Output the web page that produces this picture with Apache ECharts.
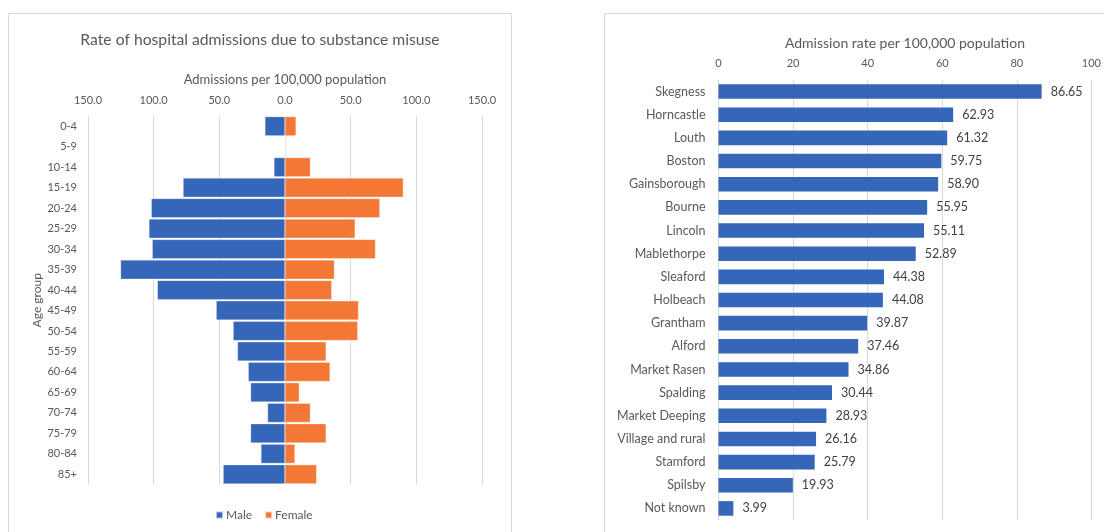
<!DOCTYPE html>
<html>
<head>
<meta charset="utf-8">
<script src="https://cdn.jsdelivr.net/npm/echarts@6/dist/echarts.min.js"></script>
<style>
  html, body { margin: 0; padding: 0; background: #ffffff; }
  #chart { width: 1104px; height: 532px; }
</style>
</head>
<body>
<div id="chart"></div>
<script>
// Age-group pyramid: admissions per 100,000 population
const ageGroups = ['0-4', '5-9', '10-14', '15-19', '20-24', '25-29', '30-34', '35-39', '40-44',
  '45-49', '50-54', '55-59', '60-64', '65-69', '70-74', '75-79', '80-84', '85+'];
const maleRates = [15.3, 0, 8.4, 77.6, 101.8, 103.6, 101.1, 125.2, 97.2,
  52.4, 39.5, 36.2, 28.0, 26.2, 13.3, 26.2, 18.3, 47.1];
const femaleRates = [8.4, 0, 19.3, 90.1, 72.2, 53.4, 68.9, 37.6, 35.6,
  56.0, 55.4, 31.3, 34.3, 10.9, 19.3, 31.3, 7.6, 24.1];
const pyramidTicks = [-150, -100, -50, 0, 50, 100, 150];

// Admission rate by locality
const localities = ['Skegness', 'Horncastle', 'Louth', 'Boston', 'Gainsborough', 'Bourne', 'Lincoln',
  'Mablethorpe', 'Sleaford', 'Holbeach', 'Grantham', 'Alford', 'Market Rasen', 'Spalding',
  'Market Deeping', 'Village and rural', 'Stamford', 'Spilsby', 'Not known'];
const localityRates = [86.65, 62.93, 61.32, 59.75, 58.90, 55.95, 55.11, 52.89, 44.38, 44.08,
  39.87, 37.46, 34.86, 30.44, 28.93, 26.16, 25.79, 19.93, 3.99];
const localityTicks = [0, 20, 40, 60, 80, 100];

const FONT = 'Lato, "Open Sans", sans-serif';
const GREY = '#595959';
const GRID_LINE = '#d9d9d9';
const BLUE = '#3566B8';
const ORANGE = '#F47835';

const chart = echarts.init(document.getElementById('chart'), null, { renderer: 'canvas' });

chart.setOption({
  animation: false,
  backgroundColor: '#ffffff',
  textStyle: { fontFamily: FONT },
  graphic: [
    { type: 'rect', shape: { x: 8.5, y: 13.5, width: 503, height: 540 }, silent: true,
      style: { fill: 'none', stroke: GRID_LINE, lineWidth: 1 } },
    { type: 'rect', shape: { x: 604.5, y: 13.5, width: 520, height: 540 }, silent: true,
      style: { fill: 'none', stroke: GRID_LINE, lineWidth: 1 } }
  ],
  title: [{
    text: 'Rate of hospital admissions due to substance misuse',
    left: 255, top: 27, textAlign: 'center',
    textStyle: { fontFamily: FONT, fontSize: 15.7, fontWeight: 'normal', color: GREY }
  }],
  legend: {
    data: ['Male', 'Female'],
    left: 210, top: 504,
    itemWidth: 7, itemHeight: 7, itemGap: 12, icon: 'rect',
    textStyle: { fontFamily: FONT, fontSize: 12, color: GREY, padding: [0, 0, 0, -2] }
  },
  grid: [
    { left: 88, top: 116, width: 394, height: 368.5 },
    { left: 718.5, top: 80, width: 373, height: 440 }
  ],
  xAxis: [{
    gridIndex: 0, type: 'value', position: 'top',
    min: pyramidTicks[0], max: pyramidTicks[pyramidTicks.length - 1], interval: 50,
    name: 'Admissions per 100,000 population', nameLocation: 'middle', nameGap: 29.5,
    nameTextStyle: { fontFamily: FONT, fontSize: 13, color: GREY },
    axisLine: { show: false }, axisTick: { show: false },
    axisLabel: { margin: 10, fontFamily: FONT, fontSize: 11, color: GREY,
      formatter: v => Math.abs(v).toFixed(1) },
    splitLine: { show: true, lineStyle: { color: GRID_LINE, width: 1 } }
  }, {
    gridIndex: 1, type: 'value', position: 'top',
    min: localityTicks[0], max: localityTicks[localityTicks.length - 1], interval: 20,
    name: 'Admission rate per 100,000 population', nameLocation: 'middle', nameGap: 30,
    nameTextStyle: { fontFamily: FONT, fontSize: 14, color: GREY },
    axisLine: { show: false }, axisTick: { show: false },
    axisLabel: { margin: 11, fontFamily: FONT, fontSize: 11, color: GREY },
    splitLine: { show: true, lineStyle: { color: GRID_LINE, width: 1 } }
  }],
  yAxis: [{
    gridIndex: 0, type: 'category', data: ageGroups, inverse: true,
    name: 'Age group', nameLocation: 'middle', nameRotate: 90, nameGap: 42,
    nameTextStyle: { fontFamily: FONT, fontSize: 12, color: GREY },
    axisLine: { show: false }, axisTick: { show: false },
    axisLabel: { margin: 11, fontFamily: FONT, fontSize: 11, color: GREY }
  }, {
    gridIndex: 1, type: 'category', data: localities, inverse: true,
    axisLine: { show: false }, axisTick: { show: false },
    axisLabel: { margin: 13, fontFamily: FONT, fontSize: 12.5, color: GREY }
  }],
  series: [{
    name: 'Male', type: 'bar', xAxisIndex: 0, yAxisIndex: 0,
    data: maleRates.map(v => -v),
    barGap: '-100%', barCategoryGap: '6%',
    itemStyle: { color: BLUE, borderColor: 'rgba(255,255,255,0.6)', borderWidth: 0.5 }
  }, {
    name: 'Female', type: 'bar', xAxisIndex: 0, yAxisIndex: 0,
    data: femaleRates,
    barGap: '-100%', barCategoryGap: '6%',
    itemStyle: { color: ORANGE, borderColor: 'rgba(255,255,255,0.6)', borderWidth: 0.5 }
  }, {
    name: 'Admission rate', type: 'bar', xAxisIndex: 1, yAxisIndex: 1,
    data: localityRates, barCategoryGap: '37%',
    itemStyle: { color: BLUE },
    label: { show: true, position: 'right', distance: 9,
      fontFamily: FONT, fontSize: 12.5, color: '#404040',
      formatter: p => p.value.toFixed(2) }
  }]
});
</script>
</body>
</html>
